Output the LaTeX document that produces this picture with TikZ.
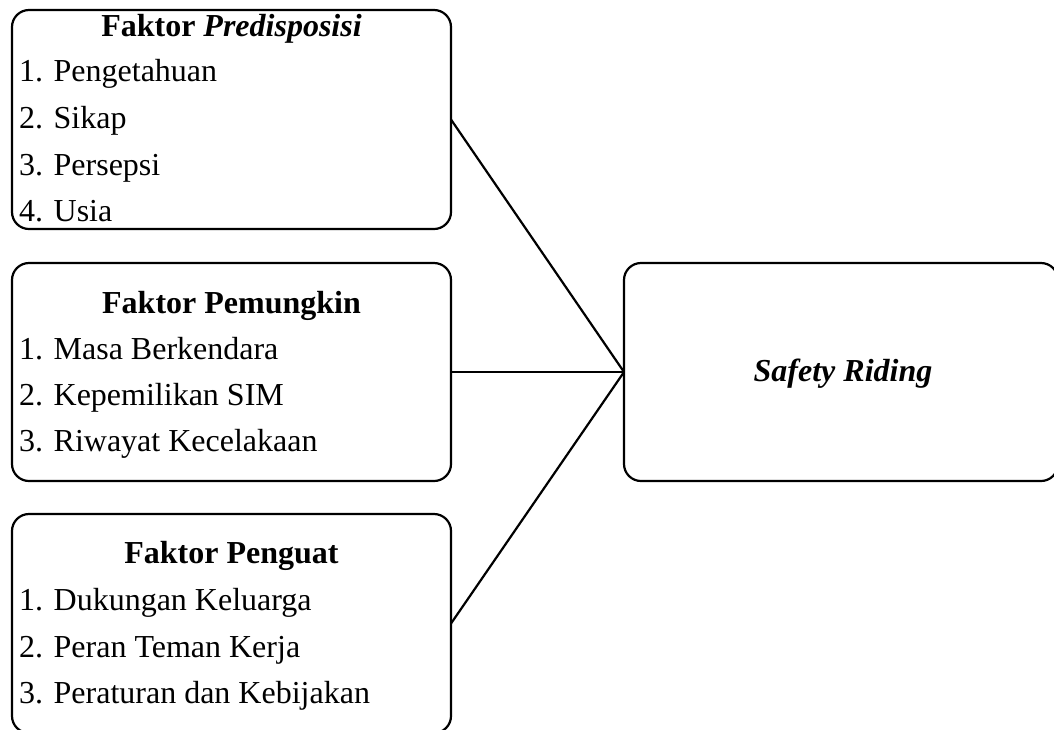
\documentclass[tikz,border=0pt]{standalone}
\usepackage{fontspec}
\setmainfont{Liberation Serif}
\begin{document}
\begin{tikzpicture}[x=1pt,y=-1pt,
  box/.style={draw=black,line width=2.2pt,rounded corners=17pt,rectangle,inner sep=0pt,outer sep=0pt},
  conn/.style={draw=black,line width=2.2pt},
  txt/.style={inner sep=0pt,outer sep=0pt,font=\fontsize{32}{38}\selectfont},
  item/.style={txt,anchor=base west},
  ttl/.style={txt,anchor=base,font=\fontsize{32}{38}\selectfont\bfseries}]
\clip (0,0) rectangle (1054,729);
\useasboundingbox (0,0) rectangle (1054,729);
\node[box,minimum width=439pt,minimum height=219pt] (box1) at (231.5,119.5) {};
\node[box,minimum width=439pt,minimum height=218pt] (box2) at (231.5,372) {};
\node[box,minimum width=439pt,minimum height=219pt] (box3) at (231.5,623.5) {};
\node[box,minimum width=434pt,minimum height=218pt] (box4) at (841,372) {};
% box 1
\node[ttl] (t1) at (231.5,36.5) {Faktor \textit{Predisposisi}};
\node[item] (i11) at (19,81.7) {1. Pengetahuan};
\node[item] (i12) at (19,128) {2. Sikap};
\node[item] (i13) at (19,175.7) {3. Persepsi};
\node[item] (i14) at (19,221.7) {4. Usia};
% box 2
\node[ttl] (t2) at (231.5,313) {Faktor Pemungkin};
\node[item] (i21) at (19,359) {1. Masa Berkendara};
\node[item] (i22) at (19,405) {2. Kepemilikan SIM};
\node[item] (i23) at (19,451) {3. Riwayat Kecelakaan};
% box 3
\node[ttl] (t3) at (231.5,563) {Faktor Penguat};
\node[item] (i31) at (19,610) {1. Dukungan Keluarga};
\node[item] (i32) at (19,657) {2. Peran Teman Kerja};
\node[item] (i33) at (19,703) {3. Peraturan dan Kebijakan};
% box 4
\node[ttl,font=\fontsize{32}{38}\selectfont\bfseries\itshape] (t4) at (843,381) {Safety Riding};
% connectors
\draw[conn] (box1.east) -- (box4.west);
\draw[conn] (box2.east) -- (box4.west);
\draw[conn] (box3.east) -- (box4.west);
\end{tikzpicture}
\end{document}
